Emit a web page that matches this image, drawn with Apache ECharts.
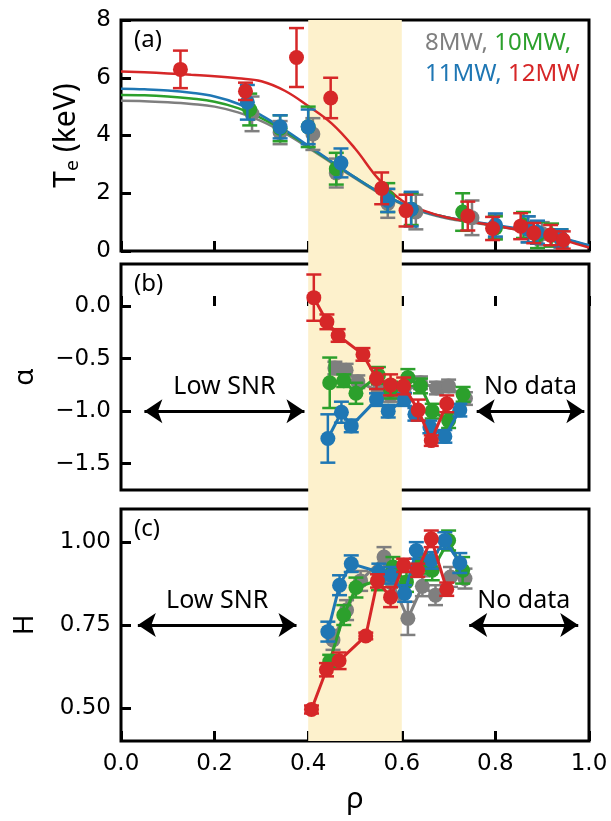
<!DOCTYPE html>
<html>
<head>
<meta charset="utf-8">
<title></title>
<style>
html, body { margin: 0; padding: 0; background: #fff; }
#main { width: 611px; height: 821px; }
</style>
</head>
<body>
<div id="main"></div>
<script src="https://cdn.jsdelivr.net/npm/echarts@6/dist/echarts.min.js"></script>
<script>
// order: 8MW, 10MW, 11MW, 12MW
var powers = ['8MW', '10MW', '11MW', '12MW'];
var colors = ['#7f7f7f', '#2ca02c', '#1f77b4', '#d62728'];

// (a) electron temperature
var teRho = [
  [0.28, 0.34, 0.41, 0.46, 0.57, 0.63, 0.75, 0.80, 0.87, 0.90, 0.94],
  [0.275, 0.34, 0.40, 0.46, 0.57, 0.62, 0.73, 0.80, 0.86, 0.89, 0.92, 0.94],
  [0.27, 0.34, 0.40, 0.47, 0.57, 0.62, 0.80, 0.87, 0.89, 0.94],
  [0.127, 0.266, 0.375, 0.448, 0.557, 0.609, 0.741, 0.794, 0.854, 0.882, 0.918, 0.945]
];
var teVal = [
  [4.75, 4.1, 4.05, 2.7, 1.65, 1.35, 1.15, 0.85, 0.75, 0.6, 0.4],
  [4.9, 4.25, 4.3, 2.85, 1.85, 1.45, 1.35, 0.8, 0.9, 0.55, 0.55, 0.45],
  [5.15, 4.3, 4.3, 3.05, 1.75, 1.45, 0.9, 0.75, 0.65, 0.45],
  [6.29, 5.53, 6.70, 5.30, 2.17, 1.40, 1.21, 0.78, 0.86, 0.62, 0.55, 0.38]
];
var teErr = [
  [0.6, 0.4, 0.55, 0.5, 0.5, 0.6, 0.6, 0.4, 0.45, 0.4, 0.3],
  [0.55, 0.45, 0.7, 0.55, 0.5, 0.55, 0.65, 0.4, 0.45, 0.45, 0.4, 0.3],
  [0.6, 0.4, 0.6, 0.5, 0.4, 0.6, 0.4, 0.45, 0.4, 0.3],
  [0.65, 0.3, 1.02, 0.7, 0.55, 0.55, 0.5, 0.4, 0.45, 0.35, 0.35, 0.3]
];
// fitted profiles
var fitRho = [0, 0.05, 0.1, 0.15, 0.2, 0.25, 0.3, 0.35, 0.4, 0.45, 0.5,
  0.55, 0.6, 0.65, 0.7, 0.75, 0.8, 0.85, 0.9, 0.95, 1.0];
var fitTe = [
  [5.2, 5.19, 5.15, 5.09, 5.0, 4.8, 4.5, 4.08, 3.58, 3.05, 2.52, 2.02, 1.62, 1.32, 1.12, 0.99, 0.86, 0.73, 0.58, 0.39, 0.17],
  [5.4, 5.39, 5.35, 5.28, 5.17, 4.95, 4.6, 4.15, 3.62, 3.08, 2.55, 2.05, 1.65, 1.35, 1.15, 1.01, 0.88, 0.75, 0.6, 0.4, 0.18],
  [5.62, 5.6, 5.56, 5.48, 5.35, 5.1, 4.7, 4.2, 3.65, 3.1, 2.55, 2.05, 1.65, 1.35, 1.15, 1.02, 0.9, 0.77, 0.62, 0.42, 0.2],
  [6.22, 6.19, 6.15, 6.1, 6.05, 5.98, 5.88, 5.55, 5.02, 4.42, 3.55, 2.5, 1.75, 1.38, 1.15, 1.0, 0.88, 0.72, 0.55, 0.35, 0.12]
];

// (b) alpha
var alRho = [
  [0.457, 0.481, 0.506, 0.55, 0.576, 0.605, 0.64, 0.674, 0.70, 0.736],
  [0.446, 0.476, 0.502, 0.55, 0.576, 0.613, 0.64, 0.665, 0.70, 0.731],
  [0.442, 0.471, 0.492, 0.546, 0.571, 0.606, 0.628, 0.66, 0.692, 0.724],
  [0.412, 0.44, 0.464, 0.517, 0.546, 0.576, 0.604, 0.635, 0.663, 0.696]
];
var alVal = [
  [-0.59, -0.61, -0.72, -0.81, -0.85, -0.82, -0.73, -0.78, -0.76, -0.88],
  [-0.73, -0.71, -0.83, -0.66, -0.8, -0.68, -0.76, -1.0, -1.09, -0.84],
  [-1.26, -1.01, -1.14, -0.89, -1.0, -0.89, -1.03, -1.15, -1.24, -0.99],
  [0.08, -0.15, -0.28, -0.46, -0.69, -0.75, -0.76, -0.99, -1.28, -0.93]
];
var alErr = [
  [0.06, 0.06, 0.06, 0.06, 0.06, 0.06, 0.06, 0.06, 0.06, 0.06],
  [0.24, 0.06, 0.1, 0.08, 0.08, 0.08, 0.07, 0.07, 0.07, 0.07],
  [0.23, 0.1, 0.06, 0.06, 0.06, 0.06, 0.06, 0.06, 0.06, 0.06],
  [0.22, 0.07, 0.06, 0.06, 0.1, 0.1, 0.08, 0.1, 0.05, 0.08]
];

// (c) Hurst exponent
var hRho = [
  [0.453, 0.482, 0.512, 0.562, 0.58, 0.613, 0.644, 0.672, 0.704, 0.735],
  [0.446, 0.476, 0.502, 0.55, 0.581, 0.61, 0.64, 0.665, 0.70, 0.73],
  [0.442, 0.467, 0.492, 0.551, 0.577, 0.606, 0.631, 0.663, 0.692, 0.724],
  [0.407, 0.439, 0.466, 0.523, 0.548, 0.576, 0.604, 0.634, 0.663, 0.696]
];
var hVal = [
  [0.705, 0.795, 0.883, 0.955, 0.875, 0.77, 0.867, 0.84, 0.895, 0.89],
  [0.64, 0.78, 0.863, 0.885, 0.925, 0.88, 0.935, 0.915, 1.005, 0.915],
  [0.73, 0.87, 0.935, 0.91, 0.9, 0.845, 0.975, 0.945, 1.005, 0.937],
  [0.495, 0.615, 0.642, 0.717, 0.883, 0.834, 0.93, 0.915, 1.01, 0.858]
];
var hErr = [
  [0.03, 0.03, 0.03, 0.03, 0.03, 0.05, 0.03, 0.03, 0.03, 0.03],
  [0.02, 0.03, 0.03, 0.03, 0.03, 0.03, 0.03, 0.03, 0.03, 0.04],
  [0.03, 0.03, 0.025, 0.025, 0.025, 0.025, 0.025, 0.025, 0.025, 0.03],
  [0.012, 0.02, 0.025, 0.01, 0.02, 0.03, 0.02, 0.02, 0.025, 0.02]
];

var band = [0.4, 0.6];
var arrowsB = [[0.05, 0.392, -1.0, 'Low SNR'], [0.76, 0.99, -1.0, 'No data']];
var arrowsC = [[0.036, 0.375, 0.75, 'Low SNR'], [0.744, 0.977, 0.75, 'No data']];

var sans = 'Noto Sans';
var tickFont = 'DejaVu Sans';

function errBars(idx, rho, val, err, color, z) {
  return {
    type: 'custom', xAxisIndex: idx, yAxisIndex: idx, z: z, silent: true,
    data: rho.map(function (r, i) { return [r, val[i] - err[i], val[i] + err[i]]; }),
    encode: { x: 0, y: [1, 2] },
    renderItem: function (params, api) {
      var lo = api.coord([api.value(0), api.value(1)]);
      var hi = api.coord([api.value(0), api.value(2)]);
      var w = 7.5;
      var st = { stroke: color, lineWidth: 2.5 };
      return { type: 'group', children: [
        { type: 'line', shape: { x1: lo[0], y1: lo[1], x2: hi[0], y2: hi[1] }, style: st },
        { type: 'line', shape: { x1: lo[0] - w, y1: lo[1], x2: lo[0] + w, y2: lo[1] }, style: st },
        { type: 'line', shape: { x1: hi[0] - w, y1: hi[1], x2: hi[0] + w, y2: hi[1] }, style: st }
      ]};
    }
  };
}

var series = [];
function addPanel(idx, rho, val, err, connect) {
  for (var k = 0; k < 4; k++) {
    series.push(errBars(idx, rho[k], val[k], err[k], colors[k], 2 + 2 * k));
    series.push({
      type: connect ? 'line' : 'scatter', name: powers[k],
      xAxisIndex: idx, yAxisIndex: idx, z: 3 + 2 * k, silent: true,
      data: rho[k].map(function (r, i) { return [r, val[k][i]]; }),
      symbol: 'circle', symbolSize: 15, showSymbol: true,
      itemStyle: { color: colors[k], opacity: 1 },
      lineStyle: { color: colors[k], width: 3 }
    });
  }
}
addPanel(0, teRho, teVal, teErr, false);
addPanel(1, alRho, alVal, alErr, true);
addPanel(2, hRho, hVal, hErr, true);

fitTe.forEach(function (v, k) {
  series.push({
    type: 'line', xAxisIndex: 0, yAxisIndex: 0, z: 1, silent: true,
    data: fitRho.map(function (r, i) { return [r, v[i]]; }),
    showSymbol: false, smooth: 0.4,
    lineStyle: { color: colors[k], width: 2.5 }
  });
});

// shaded band over all three panels
series.push({
  type: 'line', xAxisIndex: 3, yAxisIndex: 3, data: [], z: 0, silent: true,
  markArea: { silent: true, itemStyle: { color: '#fdf1cc' },
    data: [[{ xAxis: band[0] }, { xAxis: band[1] }]] }
});

function arrowSeries(idx, arrows) {
  return {
    type: 'line', xAxisIndex: idx, yAxisIndex: idx, data: [], z: 20, silent: true,
    markLine: {
      silent: true, animation: false,
      symbol: ['arrow', 'arrow'], symbolSize: [18, 18],
      lineStyle: { color: '#000', width: 3, type: 'solid' },
      label: { show: true, position: 'insideMiddleTop', distance: 12, formatter: '{b}',
        color: '#000', fontFamily: sans, fontSize: 25 },
      data: arrows.map(function (a) {
        return [{ coord: [a[0], a[2]], name: a[3] }, { coord: [a[1], a[2]] }];
      })
    }
  };
}
series.push(arrowSeries(1, arrowsB));
series.push(arrowSeries(2, arrowsC));

var gridBase = { left: 121, right: 22, show: true, borderColor: '#000', borderWidth: 3, backgroundColor: 'transparent' };
function xAx(idx, showLabel) {
  return {
    type: 'value', gridIndex: idx, min: 0, max: 1, interval: 0.2,
    axisLine: { show: false }, splitLine: { show: false },
    axisTick: { show: true, inside: true, length: 10, lineStyle: { color: '#000', width: 3 } },
    axisLabel: { show: showLabel, margin: 12, color: '#000', fontFamily: tickFont, fontSize: 23,
      formatter: function (v) { return v.toFixed(1); } },
    name: showLabel ? 'ρ' : '', nameLocation: 'middle', nameGap: 44,
    nameTextStyle: { color: '#000', fontFamily: sans, fontSize: 29 }
  };
}
function yAx(idx, opts) {
  var tick = { show: true, inside: true, length: 10, lineStyle: { color: '#000', width: 3 } };
  var lab = { color: '#000', fontFamily: tickFont, fontSize: 23, margin: 10, formatter: opts.fmt };
  if (opts.ticks) { tick.customValues = opts.ticks; lab.customValues = opts.ticks; }
  var ax = {
    type: 'value', gridIndex: idx, min: opts.min, max: opts.max,
    axisLine: { show: false }, splitLine: { show: false },
    axisTick: tick, axisLabel: lab,
    name: opts.name, nameLocation: 'middle', nameRotate: 90, nameGap: opts.gap,
    nameTextStyle: { color: '#000', fontFamily: sans, fontSize: opts.nameSize || 28 }
  };
  if (opts.interval) ax.interval = opts.interval;
  return ax;
}
function minus(s) { return s.replace('-', '\u2212'); }

var option = {
  animation: false,
  backgroundColor: '#fff',
  grid: [
    Object.assign({}, gridBase, { top: 20, height: 231 }),
    Object.assign({}, gridBase, { top: 264, height: 226 }),
    Object.assign({}, gridBase, { top: 509, height: 232 }),
    { left: 121, right: 22, top: 20, height: 721, show: false }
  ],
  xAxis: [xAx(0, false), xAx(1, false), xAx(2, true),
    { type: 'value', gridIndex: 3, min: 0, max: 1, show: false }],
  yAxis: [
    yAx(0, { min: 0, max: 8, interval: 2, name: 'Tₑ (keV)', gap: 40, nameSize: 30,
      fmt: function (v) { return String(v); } }),
    yAx(1, { min: -1.75, max: 0.4, ticks: [-1.5, -1.0, -0.5, 0.0], name: 'α', gap: 82,
      fmt: function (v) { return minus(v.toFixed(1)); } }),
    yAx(2, { min: 0.4, max: 1.1, ticks: [0.5, 0.75, 1.0], name: 'H', gap: 82,
      fmt: function (v) { return v.toFixed(2); } }),
    { type: 'value', gridIndex: 3, min: 0, max: 1, show: false }
  ],
  graphic: [
    { type: 'text', left: 134, top: 28, style: { text: '(a)', font: '24px "Noto Sans"', fill: '#000' } },
    { type: 'text', left: 134, top: 272, style: { text: '(b)', font: '24px "Noto Sans"', fill: '#000' } },
    { type: 'text', left: 134, top: 517, style: { text: '(c)', font: '24px "Noto Sans"', fill: '#000' } },
    { type: 'text', left: 425, top: 28, style: {
      text: '{p0|' + powers[0] + ',} {p1|' + powers[1] + ',}\n{p2|' + powers[2] + ',} {p3|' + powers[3] + '}',
      font: '24px "Noto Sans"', lineHeight: 31,
      rich: {
        p0: { fill: colors[0], fontFamily: sans, fontSize: 24, lineHeight: 31 },
        p1: { fill: colors[1], fontFamily: sans, fontSize: 24, lineHeight: 31 },
        p2: { fill: colors[2], fontFamily: sans, fontSize: 24, lineHeight: 31 },
        p3: { fill: colors[3], fontFamily: sans, fontSize: 24, lineHeight: 31 }
      }
    } }
  ],
  series: series
};

var myChart = echarts.init(document.getElementById('main'));
myChart.setOption(option);
</script>
</body>
</html>
